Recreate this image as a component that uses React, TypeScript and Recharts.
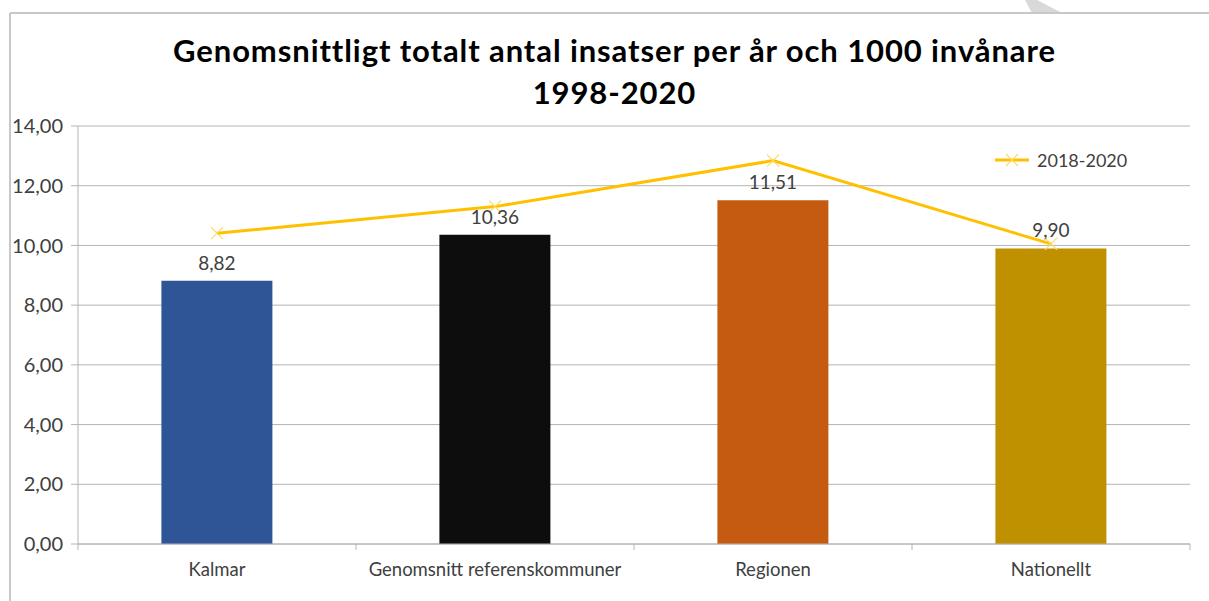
import React from "react";
import {
  ComposedChart,
  Bar,
  Line,
  XAxis,
  YAxis,
  CartesianGrid,
  LabelList,
  Cell,
} from "recharts";

const categories = ["Kalmar", "Genomsnitt referenskommuner", "Regionen", "Nationellt"];
const averages = [8.82, 10.36, 11.51, 9.9];
const recent = [10.41, 11.3, 12.84, 10.05];
const barColors = ["#2F5597", "#0D0D0D", "#C55A11", "#BF9000"];
const yTicks = [0, 2, 4, 6, 8, 10, 12, 14];

const data = categories.map((name, i) => ({
  name,
  avg: averages[i],
  recent: recent[i],
}));

const FONT = "Lato, 'Open Sans', sans-serif";
const GRID = "#B4B4B4";
const fmt = (v: number) => v.toFixed(2).replace(".", ",");

function CrossDot(props: any) {
  const { cx, cy } = props;
  if (cx == null || cy == null) return null;
  const s = 6;
  return (
    <g stroke="#FFD966" strokeWidth={1.2}>
      <line x1={cx - s} y1={cy - s} x2={cx + s} y2={cy + s} />
      <line x1={cx - s} y1={cy + s} x2={cx + s} y2={cy - s} />
    </g>
  );
}

function CategoryTick(props: any) {
  const { x, y, payload, index, visibleTicksCount } = props;
  const off = payload.offset ?? 0;
  const last = index === visibleTicksCount - 1;
  return (
    <g>
      <line x1={x - off} y1={y} x2={x - off} y2={y + 6} stroke={GRID} />
      {last && <line x1={x + off} y1={y} x2={x + off} y2={y + 6} stroke={GRID} />}
      <text x={x} y={y + 32} textAnchor="middle" fill="#404040" fontSize={18.5} fontFamily={FONT}>
        {payload.value}
      </text>
    </g>
  );
}

export default function App() {
  return (
    <div style={{ position: "absolute", left: 0, top: 0, width: 1209, height: 601, background: "#fff", overflow: "hidden" }}>
      <svg width={1209} height={601} style={{ position: "absolute", left: 0, top: 0 }}>
        <polygon points="1025,0 1037,0 1062,13 1032,13" fill="#D9D9D9" />
        <line x1={10} y1={13} x2={1209} y2={13} stroke="#C8C8C8" strokeWidth={2} />
        <line x1={10} y1={13} x2={10} y2={601} stroke="#C8C8C8" strokeWidth={2} />
      </svg>
      <div
        style={{
          position: "absolute",
          left: 0,
          top: 29,
          width: 1229,
          textAlign: "center",
          fontFamily: FONT,
          fontWeight: 700,
          fontSize: 31,
          letterSpacing: 0.9,
          lineHeight: "42px",
          color: "#000",
        }}
      >
        Genomsnittligt totalt antal insatser per år och 1000 invånare
        <br />
        1998-2020
      </div>
      <div style={{ position: "absolute", left: 0, top: 0 }}>
        <ComposedChart
          width={1209}
          height={601}
          data={data}
          margin={{ top: 126, right: 19, bottom: 0, left: 0 }}
          barCategoryGap="30%"
        >
          <CartesianGrid vertical={false} stroke={GRID} />
          <XAxis
            dataKey="name"
            height={57}
            axisLine={{ stroke: GRID }}
            tickLine={false}
            tickSize={0}
            tickMargin={0}
            tick={<CategoryTick />}
            interval={0}
          />
          <YAxis
            width={78}
            domain={[0, 14]}
            ticks={yTicks}
            tickFormatter={fmt}
            axisLine={{ stroke: GRID }}
            tickLine={{ stroke: GRID }}
            tickSize={7}
            tickMargin={8}
            tick={{ fill: "#404040", fontSize: 20, fontFamily: FONT }}
          />
          <Bar dataKey="avg" isAnimationActive={false}>
            {data.map((d, i) => (
              <Cell key={d.name} fill={barColors[i]} />
            ))}
            <LabelList
              dataKey="avg"
              position="top"
              offset={11}
              formatter={(v: any) => fmt(Number(v))}
              style={{ fill: "#404040", fontSize: 19, fontFamily: FONT }}
            />
          </Bar>
          <Line
            dataKey="recent"
            type="linear"
            stroke="#FFC000"
            strokeWidth={3}
            dot={<CrossDot />}
            activeDot={false}
            isAnimationActive={false}
          />
        </ComposedChart>
      </div>
      <div
        style={{
          position: "absolute",
          left: 995,
          top: 149,
          display: "flex",
          alignItems: "center",
          fontFamily: FONT,
          fontSize: 18,
          color: "#404040",
        }}
      >
        <svg width={36} height={20}>
          <line x1={0} y1={10} x2={34} y2={10} stroke="#FFC000" strokeWidth={3} />
          <line x1={11} y1={4} x2={23} y2={16} stroke="#FFD966" strokeWidth={1.2} />
          <line x1={11} y1={16} x2={23} y2={4} stroke="#FFD966" strokeWidth={1.2} />
        </svg>
        <span style={{ marginLeft: 6 }}>2018-2020</span>
      </div>
    </div>
  );
}
